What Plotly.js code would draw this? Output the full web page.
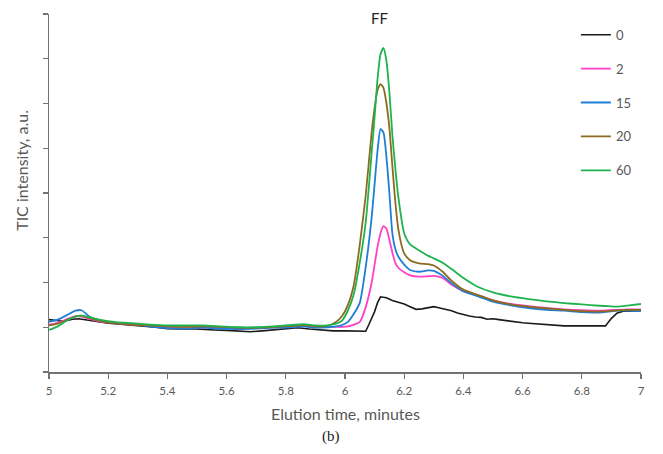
<!DOCTYPE html>
<html>
<head>
<meta charset="utf-8">
<script src="https://cdn.plot.ly/plotly-3.0.1.min.js"></script>
<style>html,body{margin:0;padding:0;background:#fff;}#chart{width:663px;height:454px;}</style>
</head>
<body>
<div id="chart"></div>
<script>
// Shared elution-time grid (minutes) for the smooth series
const time = [5.00,5.03,5.06,5.09,5.11,5.14,5.17,5.22,5.28,5.34,5.40,5.46,5.52,5.58,5.64,5.70,5.76,5.82,5.86,5.90,5.94,5.97,5.99,6.01,6.03,6.05,6.07,6.09,6.10,6.11,6.12,6.13,6.14,6.15,6.16,6.17,6.18,6.20,6.22,6.25,6.28,6.30,6.33,6.36,6.40,6.45,6.50,6.56,6.62,6.68,6.74,6.80,6.86,6.89,6.92,6.96,7.00];

const s2  = [1.06,1.10,1.18,1.25,1.24,1.18,1.13,1.09,1.06,1.03,0.99,0.98,1.00,0.99,0.98,0.98,1.00,1.01,1.03,1.00,1.01,1.01,1.01,1.02,1.06,1.12,1.45,2.00,2.40,2.80,3.10,3.26,3.20,2.95,2.67,2.44,2.33,2.23,2.16,2.13,2.14,2.15,2.10,1.95,1.81,1.71,1.60,1.52,1.47,1.43,1.40,1.38,1.37,1.38,1.39,1.40,1.40];
const s15 = [1.12,1.17,1.27,1.37,1.38,1.22,1.15,1.10,1.07,1.02,0.98,0.97,0.99,0.97,0.96,0.97,0.99,1.00,1.02,0.99,1.00,1.02,1.05,1.12,1.30,1.55,2.35,3.45,4.20,4.95,5.43,5.35,4.80,4.00,3.10,2.75,2.58,2.40,2.28,2.24,2.27,2.26,2.15,1.98,1.80,1.69,1.57,1.49,1.43,1.39,1.37,1.34,1.33,1.35,1.37,1.37,1.36];
const s20 = [1.04,1.08,1.16,1.24,1.26,1.20,1.14,1.09,1.06,1.04,1.02,1.01,1.02,1.01,0.99,0.99,1.01,1.03,1.05,1.02,1.03,1.12,1.25,1.50,1.95,2.85,3.95,5.35,5.90,6.30,6.43,6.35,6.00,5.45,4.60,3.80,3.20,2.65,2.50,2.43,2.41,2.38,2.24,2.04,1.84,1.72,1.60,1.51,1.46,1.42,1.39,1.36,1.35,1.36,1.38,1.39,1.39];
const s60 = [0.94,1.02,1.15,1.24,1.26,1.22,1.17,1.12,1.09,1.06,1.04,1.04,1.04,1.02,1.00,1.00,1.02,1.05,1.07,1.04,1.04,1.08,1.15,1.38,1.75,2.45,3.35,4.90,5.70,6.55,7.10,7.24,6.95,6.25,5.30,4.55,3.92,3.10,2.85,2.72,2.60,2.54,2.44,2.30,2.10,1.90,1.78,1.69,1.63,1.58,1.54,1.51,1.48,1.47,1.46,1.49,1.52];

// Black (0) series has its own, denser grid
const time0 = [5.00,5.02,5.04,5.06,5.08,5.10,5.12,5.14,5.16,5.18,5.20,5.24,5.28,5.32,5.36,5.40,5.44,5.48,5.52,5.56,5.60,5.64,5.68,5.72,5.76,5.80,5.84,5.88,5.92,5.96,6.00,6.04,6.07,6.08,6.09,6.10,6.11,6.12,6.14,6.16,6.18,6.20,6.22,6.24,6.26,6.28,6.30,6.32,6.34,6.36,6.38,6.40,6.42,6.44,6.46,6.48,6.50,6.52,6.54,6.56,6.58,6.60,6.62,6.64,6.66,6.68,6.70,6.72,6.74,6.78,6.82,6.86,6.88,6.90,6.92,6.94,6.97,7.00];
const s0 = [1.17,1.16,1.14,1.15,1.18,1.19,1.17,1.15,1.12,1.10,1.09,1.07,1.05,1.03,1.00,0.97,0.96,0.97,0.95,0.94,0.93,0.91,0.90,0.92,0.94,0.96,0.99,0.96,0.94,0.92,0.92,0.91,0.91,1.05,1.20,1.35,1.55,1.68,1.66,1.60,1.56,1.52,1.46,1.40,1.41,1.44,1.46,1.43,1.40,1.37,1.32,1.28,1.25,1.23,1.22,1.18,1.19,1.17,1.15,1.14,1.12,1.10,1.09,1.08,1.06,1.05,1.04,1.03,1.03,1.03,1.03,1.02,1.03,1.20,1.32,1.36,1.37,1.37];

const seriesNames = ['0','2','15','20','60'];
const seriesColors = ['#1a1a1a','#ff3fc8','#1f7fd6','#8c6b1f','#1fb350'];

const xTicks = [5,5.2,5.4,5.6,5.8,6,6.2,6.4,6.6,6.8,7];
const xTickText = ['5','5.2','5.4','5.6','5.8','6','6.2','6.4','6.6','6.8','7'];

const xs = [time0, time, time, time, time];
const ys = [s0, s2, s15, s20, s60];

const traces = ys.map((y, i) => ({
  x: xs[i], y: y, type: 'scatter', mode: 'lines',
  name: seriesNames[i], legendgroup: 'g' + i,
  line: {color: seriesColors[i], width: i === 0 ? 1.6 : 1.8, shape: i === 0 ? 'linear' : 'spline', smoothing: 0.6}
}));

const axisGray = '#737373';
const layout = {
  width: 663, height: 454,
  margin: {l: 49, r: 22, t: 14, b: 82},
  paper_bgcolor: '#ffffff', plot_bgcolor: '#ffffff',
  font: {family: 'Lato, "Open Sans", sans-serif', color: '#595959'},
  showlegend: true,
  legend: {x: 0.89, y: 0.984, xanchor: 'left', yanchor: 'top', tracegroupgap: 14,
           font: {size: 13, color: '#595959'}, bgcolor: 'rgba(0,0,0,0)'},
  xaxis: {range: [5, 7], tickvals: xTicks, ticktext: xTickText, showgrid: false, zeroline: false,
          showline: true, linecolor: axisGray, linewidth: 1.5, ticks: 'outside', ticklen: 5,
          tickcolor: axisGray, tickwidth: 1.2, ticklabelstandoff: 3, tickfont: {size: 11.5, color: '#595959'}},
  yaxis: {range: [0, 8], dtick: 1, tick0: 0, showticklabels: false, showgrid: false, zeroline: false,
          showline: true, linecolor: axisGray, linewidth: 1.5, ticks: 'outside', ticklen: 5,
          tickcolor: axisGray, tickwidth: 1.2},
  annotations: [
    {text: 'TIC intensity, a.u.', xref: 'paper', yref: 'paper', x: -0.0456, y: 0.562,
     textangle: -90, showarrow: false, xanchor: 'center', yanchor: 'middle',
     font: {size: 16, color: '#595959'}},
    {text: 'Elution time, minutes', xref: 'paper', yref: 'paper', x: 0.5, y: -0.116,
     showarrow: false, xanchor: 'center', yanchor: 'middle', font: {size: 16, color: '#595959'}},
    {text: '(b)', xref: 'paper', yref: 'paper', x: 0.476, y: -0.18,
     showarrow: false, xanchor: 'center', yanchor: 'middle',
     font: {size: 15, color: '#222222', family: '"Liberation Serif", serif'}},
    {text: 'FF', xref: 'paper', yref: 'paper', x: 0.559, y: 0.989,
     showarrow: false, xanchor: 'center', yanchor: 'middle', font: {size: 15, color: '#262626'}}
  ]
};

Plotly.newPlot('chart', traces, layout, {displayModeBar: false, staticPlot: true});
</script>
</body>
</html>
